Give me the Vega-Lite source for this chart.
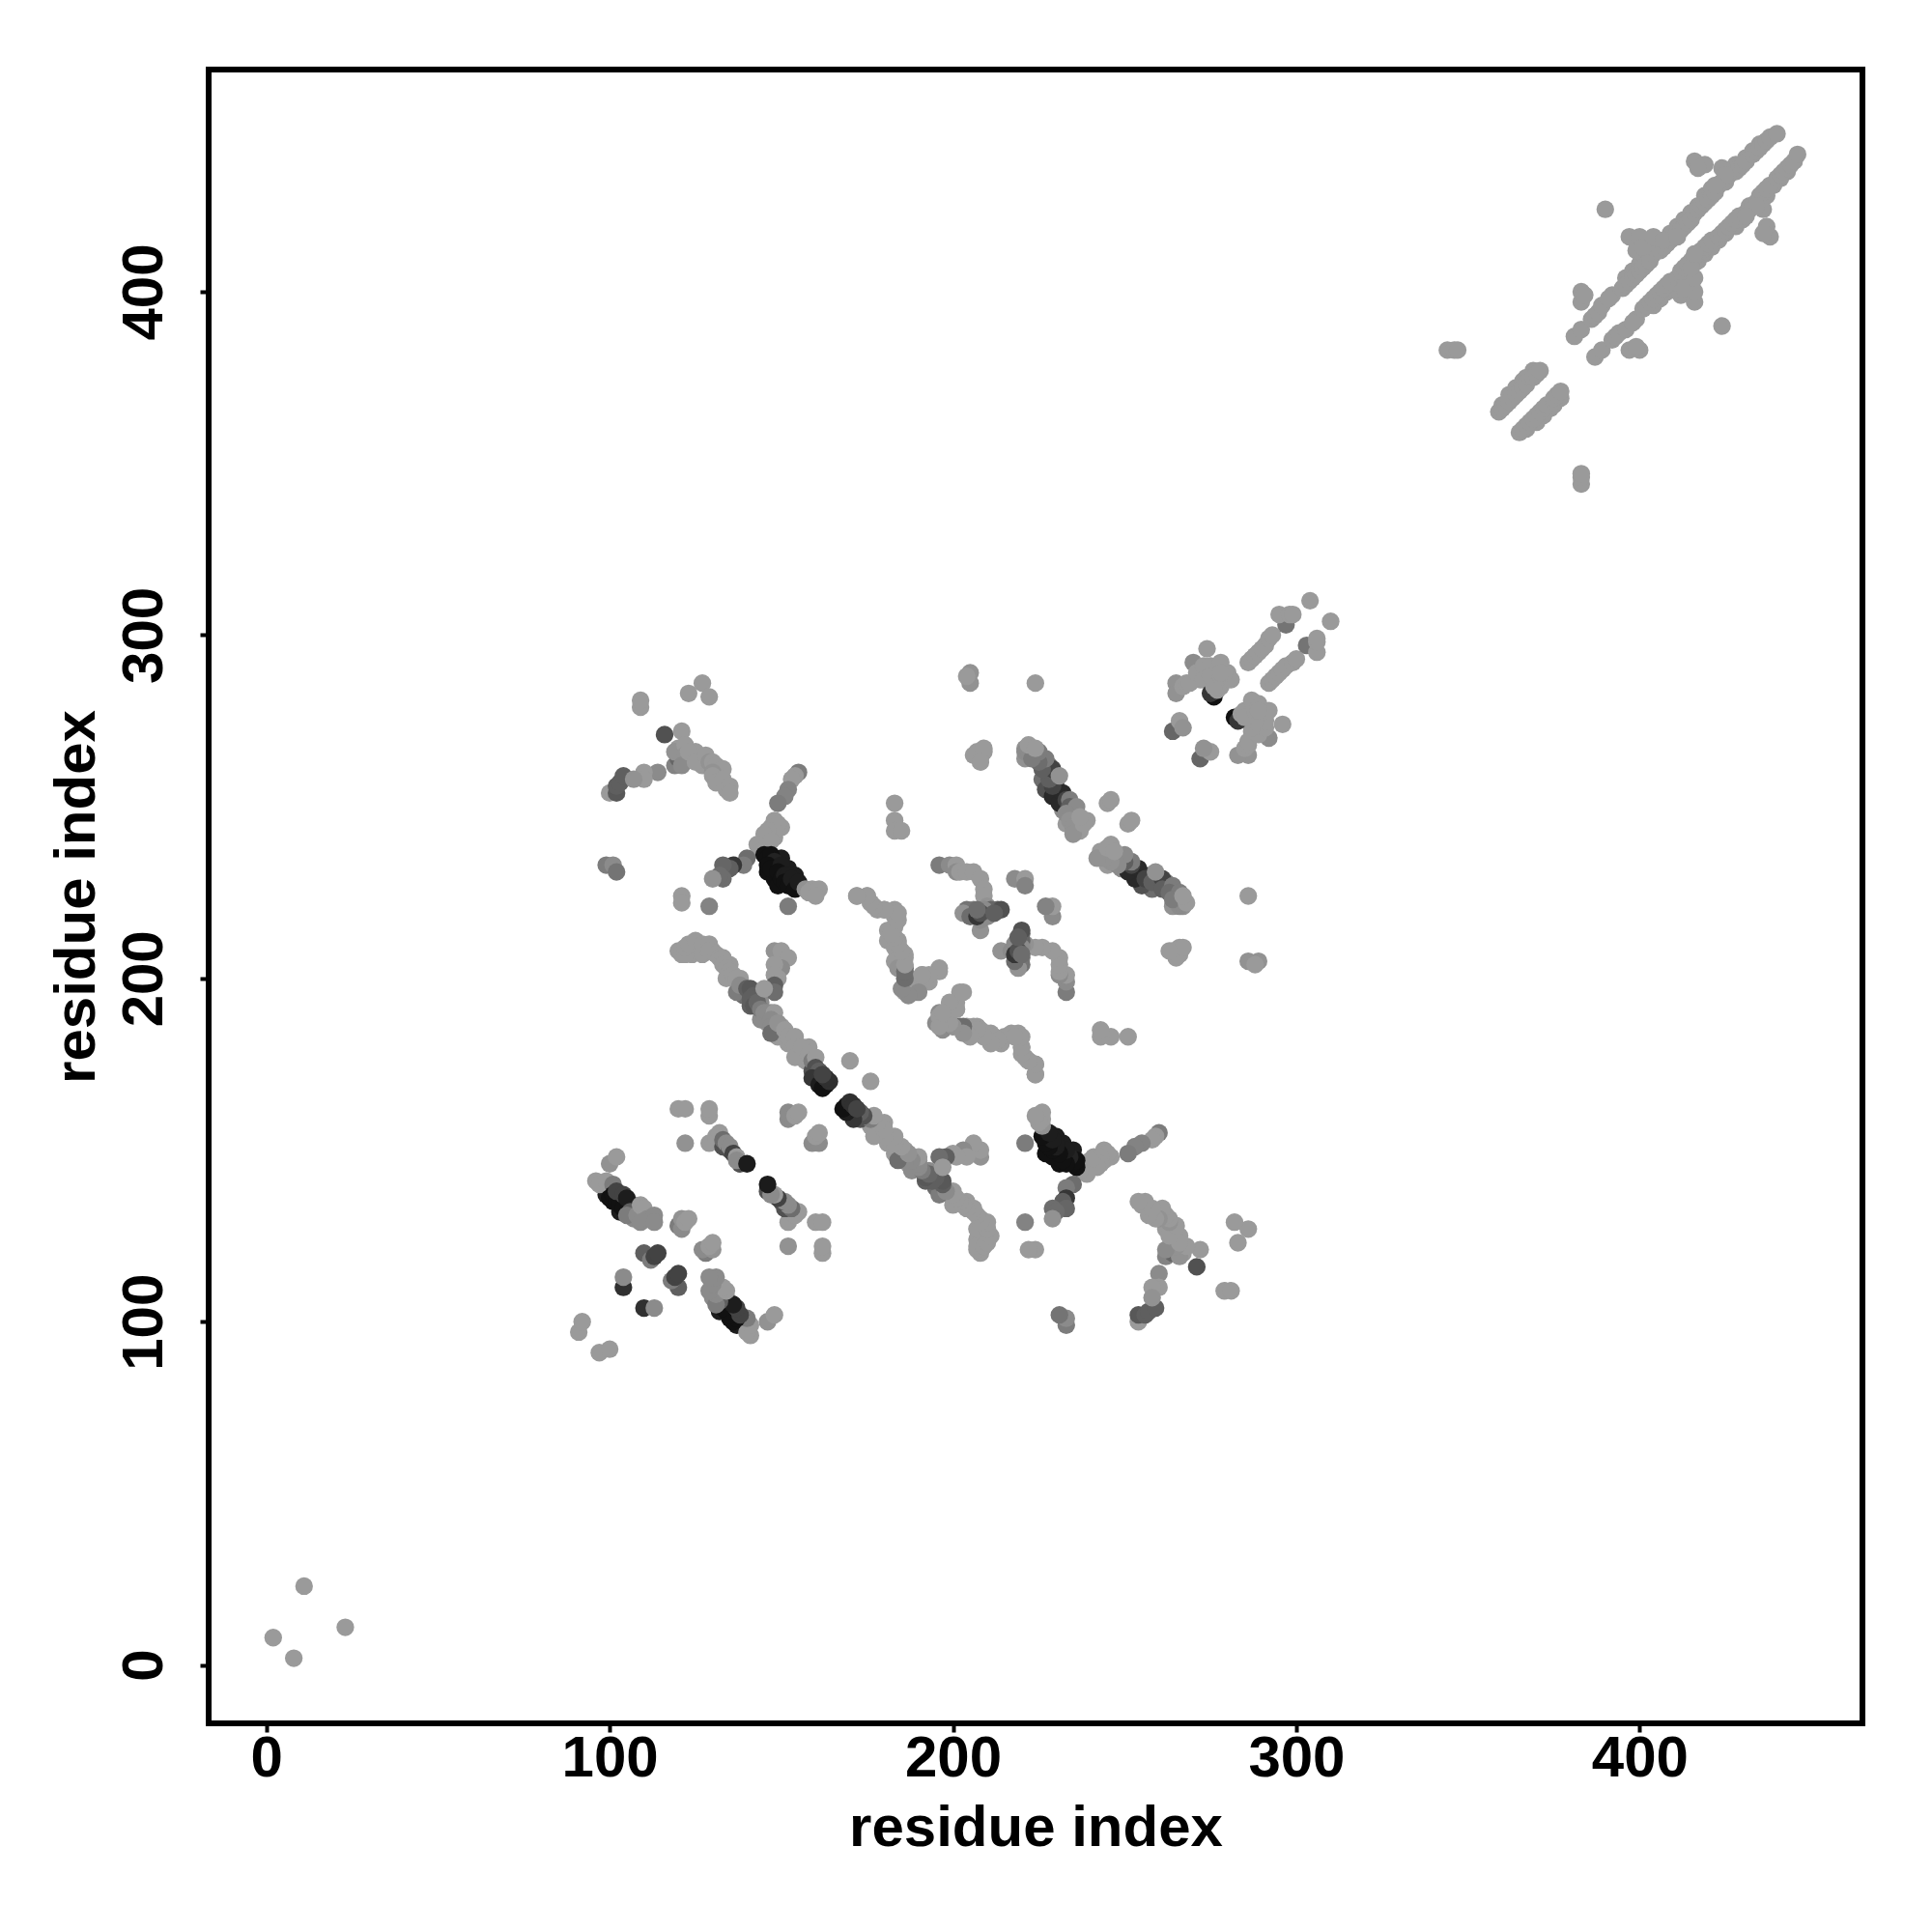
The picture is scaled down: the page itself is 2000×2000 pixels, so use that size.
{"$schema":"https://vega.github.io/schema/vega-lite/v6.json","width":1712,"height":1712,"autosize":{"type":"none"},"padding":{"left":216,"top":72,"right":72,"bottom":216},"background":"white","view":{"stroke":"black","strokeWidth":6,"fill":"white"},"mark":{"type":"circle","size":335,"opacity":1},"encoding":{"x":{"field":"x","type":"quantitative","scale":{"domain":[-16.8,464.9],"nice":false,"zero":false},"axis":{"values":[0,100,200,300,400],"grid":false,"domain":false,"tickColor":"black","tickWidth":4,"tickSize":9,"labelFont":"Liberation Sans","labelFontWeight":"bold","labelFontSize":60,"labelColor":"black","labelPadding":-2,"labelFlush":false,"labelOverlap":false,"title":"residue index","titleFont":"Liberation Sans","titleFontWeight":"bold","titleFontSize":60,"titleColor":"black","titleBaseline":"alphabetic","titleY":126}},"y":{"field":"y","type":"quantitative","scale":{"domain":[-16.97,464.7],"nice":false,"zero":false},"axis":{"values":[0,100,200,300,400],"grid":false,"domain":false,"tickColor":"black","tickWidth":4,"tickSize":9,"labelFont":"Liberation Sans","labelFontWeight":"bold","labelFontSize":60,"labelColor":"black","labelAngle":270,"labelAlign":"center","labelBaseline":"alphabetic","labelPadding":40,"labelFlush":false,"labelOverlap":false,"title":"residue index","titleFont":"Liberation Sans","titleFontWeight":"bold","titleFontSize":60,"titleColor":"black","titleAngle":270,"titleBaseline":"alphabetic","titleX":-119}},"color":{"field":"g","type":"quantitative","scale":{"domain":[0,1],"range":["#9a9a9a","#111111"]},"legend":null}},"data":{"values":[
{"x":396,"y":404,"g":0},{"x":398,"y":406,"g":0},{"x":400,"y":408,"g":0},{"x":402,"y":411,"g":0},{"x":405,"y":413,"g":0},{"x":407,"y":415,"g":0},{"x":409,"y":417,"g":0},{"x":411,"y":419,"g":0},{"x":413,"y":421,"g":0},{"x":415,"y":423,"g":0},{"x":417,"y":425,"g":0},{"x":419,"y":428,"g":0},{"x":421,"y":430,"g":0},{"x":424,"y":432,"g":0},{"x":426,"y":435,"g":0},{"x":428,"y":437,"g":0},{"x":431,"y":439,"g":0},{"x":433,"y":441,"g":0},{"x":435,"y":443,"g":0},{"x":392,"y":399,"g":0},{"x":399,"y":412,"g":0},{"x":401,"y":411,"g":0},{"x":403,"y":414,"g":0},{"x":402,"y":412,"g":0},{"x":360,"y":367,"g":0},{"x":362,"y":370,"g":0},{"x":364,"y":372,"g":0},{"x":366,"y":374,"g":0},{"x":367,"y":375,"g":0},{"x":369,"y":377,"g":0},{"x":124,"y":207,"g":0},{"x":127,"y":207,"g":0},{"x":130,"y":208,"g":0},{"x":135,"y":204,"g":0},{"x":138,"y":200,"g":0},{"x":139,"y":195,"g":0.3},{"x":144,"y":193,"g":0.1},{"x":146,"y":187,"g":0},{"x":149,"y":183,"g":0},{"x":150,"y":186,"g":0},{"x":152,"y":181,"g":0},{"x":155,"y":178,"g":0},{"x":157,"y":176,"g":0},{"x":158,"y":180,"g":0},{"x":159,"y":173,"g":0.5},{"x":163,"y":169,"g":0.9},{"x":160,"y":171,"g":0.8},{"x":162,"y":170,"g":0.9},{"x":141,"y":192,"g":0.4},{"x":144,"y":188,"g":0.1},{"x":147,"y":190,"g":0},{"x":146,"y":231,"g":1},{"x":148,"y":229,"g":1},{"x":149,"y":227,"g":1},{"x":150,"y":235,"g":0.9},{"x":152,"y":232,"g":0.9},{"x":154,"y":230,"g":0.9},{"x":99,"y":137,"g":0.9},{"x":101,"y":135,"g":1},{"x":103,"y":132,"g":0.9},{"x":105,"y":133,"g":0.7},{"x":107,"y":134,"g":0.1},{"x":107,"y":130,"g":0.1},{"x":226,"y":258,"g":0.3},{"x":228,"y":262,"g":0.2},{"x":230,"y":256,"g":0.6},{"x":232,"y":249,"g":0.1},{"x":236,"y":247,"g":0},{"x":236,"y":244,"g":0},{"x":233,"y":245,"g":0},{"x":237,"y":243,"g":0},{"x":239,"y":246,"g":0},{"x":125,"y":266,"g":0},{"x":127,"y":262,"g":0},{"x":132,"y":259,"g":0},{"x":134,"y":255,"g":0},{"x":128,"y":262,"g":0},{"x":120,"y":267,"g":0},{"x":148,"y":241,"g":0},{"x":150,"y":244,"g":0},{"x":147,"y":244,"g":0},{"x":183,"y":215,"g":0},{"x":181,"y":214,"g":0},{"x":184,"y":211,"g":0},{"x":186,"y":206,"g":0},{"x":272,"y":290,"g":0},{"x":274,"y":289,"g":0},{"x":276,"y":290,"g":0},{"x":272,"y":287,"g":0},{"x":280,"y":289,"g":0},
{"y":396,"x":404,"g":0},{"y":398,"x":406,"g":0},{"y":400,"x":408,"g":0},{"y":402,"x":411,"g":0},{"y":405,"x":413,"g":0},{"y":407,"x":415,"g":0},{"y":409,"x":417,"g":0},{"y":411,"x":419,"g":0},{"y":413,"x":421,"g":0},{"y":415,"x":423,"g":0},{"y":417,"x":425,"g":0},{"y":419,"x":428,"g":0},{"y":421,"x":430,"g":0},{"y":424,"x":432,"g":0},{"y":426,"x":435,"g":0},{"y":428,"x":437,"g":0},{"y":431,"x":439,"g":0},{"y":433,"x":441,"g":0},{"y":435,"x":443,"g":0},{"y":392,"x":399,"g":0},{"y":399,"x":412,"g":0},{"y":401,"x":411,"g":0},{"y":403,"x":414,"g":0},{"y":402,"x":412,"g":0},{"y":360,"x":367,"g":0},{"y":362,"x":370,"g":0},{"y":364,"x":372,"g":0},{"y":366,"x":374,"g":0},{"y":367,"x":375,"g":0},{"y":369,"x":377,"g":0},{"y":124,"x":207,"g":0},{"y":127,"x":207,"g":0},{"y":130,"x":208,"g":0},{"y":135,"x":204,"g":0},{"y":138,"x":200,"g":0},{"y":139,"x":195,"g":0.3},{"y":144,"x":193,"g":0.1},{"y":146,"x":187,"g":0},{"y":149,"x":183,"g":0},{"y":150,"x":186,"g":0},{"y":152,"x":181,"g":0},{"y":155,"x":178,"g":0},{"y":157,"x":176,"g":0},{"y":158,"x":180,"g":0},{"y":159,"x":173,"g":0.5},{"y":163,"x":169,"g":0.9},{"y":160,"x":171,"g":0.8},{"y":162,"x":170,"g":0.9},{"y":141,"x":192,"g":0.4},{"y":144,"x":188,"g":0.1},{"y":147,"x":190,"g":0},{"y":146,"x":231,"g":1},{"y":148,"x":229,"g":1},{"y":149,"x":227,"g":1},{"y":150,"x":235,"g":0.9},{"y":152,"x":232,"g":0.9},{"y":154,"x":230,"g":0.9},{"y":99,"x":137,"g":0.9},{"y":101,"x":135,"g":1},{"y":103,"x":132,"g":0.9},{"y":105,"x":133,"g":0.7},{"y":107,"x":134,"g":0.1},{"y":107,"x":130,"g":0.1},{"y":226,"x":258,"g":0.3},{"y":228,"x":262,"g":0.2},{"y":230,"x":256,"g":0.6},{"y":232,"x":249,"g":0.1},{"y":236,"x":247,"g":0},{"y":236,"x":244,"g":0},{"y":233,"x":245,"g":0},{"y":237,"x":243,"g":0},{"y":239,"x":246,"g":0},{"y":125,"x":266,"g":0},{"y":127,"x":262,"g":0},{"y":132,"x":259,"g":0},{"y":134,"x":255,"g":0},{"y":128,"x":262,"g":0},{"y":120,"x":267,"g":0},{"y":148,"x":241,"g":0},{"y":150,"x":244,"g":0},{"y":147,"x":244,"g":0},{"y":183,"x":215,"g":0},{"y":181,"x":214,"g":0},{"y":184,"x":211,"g":0},{"y":186,"x":206,"g":0},{"y":272,"x":290,"g":0},{"y":274,"x":289,"g":0},{"y":276,"x":290,"g":0},{"y":272,"x":287,"g":0},{"y":280,"x":289,"g":0},
{"x":2,"y":8,"g":0},{"x":11,"y":23,"g":0},{"x":91,"y":97,"g":0},{"x":92,"y":100,"g":0},{"x":96,"y":141,"g":0},{"x":97,"y":140,"g":0},{"x":99,"y":141,"g":0},{"x":100,"y":146,"g":0.05},{"x":102,"y":148,"g":0},{"x":101,"y":140,"g":0.2},{"x":100,"y":136,"g":1},{"x":101,"y":137,"g":1},{"x":102,"y":135,"g":1},{"x":103,"y":134,"g":1},{"x":104,"y":133,"g":1},{"x":102,"y":138,"g":0.6},{"x":104,"y":137,"g":0.6},{"x":105,"y":136,"g":0.9},{"x":106,"y":132,"g":0.4},{"x":105,"y":131,"g":0.2},{"x":108,"y":131,"g":0.1},{"x":109,"y":134,"g":0},{"x":110,"y":133,"g":0},{"x":109,"y":129,"g":0.1},{"x":111,"y":130,"g":0.1},{"x":113,"y":131,"g":0.1},{"x":113,"y":129,"g":0.1},{"x":120,"y":128,"g":0.2},{"x":121,"y":127,"g":0.1},{"x":121,"y":130,"g":0.05},{"x":122,"y":129,"g":0},{"x":123,"y":130,"g":0},{"x":110,"y":120,"g":0.4},{"x":112,"y":118,"g":0.2},{"x":113,"y":119,"g":0.6},{"x":114,"y":120,"g":0.6},{"x":104,"y":110,"g":0.75},{"x":104,"y":113,"g":0.1},{"x":120,"y":162,"g":0},{"x":122,"y":162,"g":0},{"x":129,"y":160,"g":0},{"x":129,"y":162,"g":0},{"x":122,"y":152,"g":0.05},{"x":129,"y":152,"g":0},{"x":131,"y":154,"g":0},{"x":132,"y":155,"g":0},{"x":133,"y":151,"g":0.5},{"x":133,"y":153,"g":0.3},{"x":134,"y":152,"g":0.1},{"x":135,"y":150,"g":0.5},{"x":135,"y":151,"g":0.1},{"x":136,"y":149,"g":0.6},{"x":137,"y":148,"g":0},{"x":138,"y":146,"g":0.5},{"x":137,"y":147,"g":0.1},{"x":140,"y":146,"g":0.92},{"x":152,"y":159,"g":0.1},{"x":152,"y":161,"g":0.1},{"x":154,"y":160,"g":0},{"x":155,"y":161,"g":0},{"x":120,"y":208,"g":0},{"x":121,"y":207,"g":0},{"x":122,"y":207,"g":0},{"x":122,"y":209,"g":0},{"x":123,"y":210,"g":0},{"x":125,"y":211,"g":0},{"x":127,"y":210,"g":0},{"x":129,"y":210,"g":0},{"x":129,"y":208,"g":0},{"x":131,"y":207,"g":0},{"x":132,"y":206,"g":0},{"x":133,"y":206,"g":0},{"x":133,"y":204,"g":0},{"x":134,"y":203,"g":0},{"x":135,"y":202,"g":0},{"x":134,"y":200,"g":0},{"x":136,"y":201,"g":0},{"x":137,"y":200,"g":0},{"x":137,"y":196,"g":0.2},{"x":138,"y":198,"g":0.1},{"x":140,"y":197,"g":0.4},{"x":141,"y":197,"g":0.45},{"x":142,"y":195,"g":0.4},{"x":141,"y":194,"g":0.4},{"x":142,"y":192,"g":0.45},{"x":143,"y":193,"g":0.35},{"x":144,"y":191,"g":0.2},{"x":145,"y":190,"g":0.1},{"x":146,"y":190,"g":0.1},{"x":148,"y":190,"g":0},{"x":147,"y":188,"g":0.1},{"x":147,"y":186,"g":0.1},{"x":147,"y":184,"g":0.3},{"x":149,"y":187,"g":0.05},{"x":151,"y":185,"g":0},{"x":152,"y":183,"g":0},{"x":154,"y":183,"g":0},{"x":154,"y":180,"g":0},{"x":154,"y":177,"g":0},{"x":156,"y":180,"g":0},{"x":158,"y":178,"g":0},{"x":159,"y":176,"g":0.2},{"x":160,"y":177,"g":0},{"x":160,"y":174,"g":0.5},{"x":161,"y":173,"g":0.4},{"x":159,"y":171,"g":0.7},{"x":161,"y":169,"g":0.9},{"x":162,"y":168,"g":1},{"x":164,"y":170,"g":0.75},{"x":163,"y":171,"g":0.75},{"x":162,"y":172,"g":0.6},{"x":148,"y":208,"g":0.05},{"x":150,"y":208,"g":0},{"x":152,"y":206,"g":0},{"x":150,"y":203,"g":0.1},{"x":148,"y":204,"g":0},{"x":149,"y":200,"g":0},{"x":148,"y":201,"g":0},{"x":148,"y":198,"g":0.4},{"x":148,"y":196,"g":0.3},{"x":145,"y":197,"g":0},{"x":170,"y":176,"g":0},{"x":109,"y":279,"g":0},{"x":109,"y":281,"g":0},{"x":123,"y":283,"g":0},{"x":127,"y":286,"g":0},{"x":129,"y":282,"g":0},{"x":116,"y":271,"g":0.5},{"x":121,"y":272,"g":0},{"x":119,"y":262,"g":0.15},{"x":120,"y":264,"g":0.35},{"x":119,"y":266,"g":0.05},{"x":122,"y":268,"g":0},{"x":122,"y":265,"g":0.05},{"x":121,"y":262,"g":0.1},{"x":123,"y":266,"g":0},{"x":125,"y":263,"g":0},{"x":128,"y":265,"g":0},{"x":129,"y":263,"g":0.05},{"x":130,"y":263,"g":0},{"x":131,"y":262,"g":0},{"x":133,"y":261,"g":0},{"x":130,"y":260,"g":0.05},{"x":130,"y":259,"g":0},{"x":131,"y":257,"g":0},{"x":133,"y":258,"g":0},{"x":135,"y":256,"g":0},{"x":135,"y":254,"g":0},{"x":114,"y":260,"g":0.1},{"x":110,"y":260,"g":0},{"x":110,"y":258,"g":0},{"x":100,"y":254,"g":0},{"x":102,"y":254,"g":0.45},{"x":102,"y":256,"g":0.4},{"x":103,"y":257,"g":0.4},{"x":104,"y":259,"g":0.4},{"x":107,"y":258,"g":0.05},{"x":155,"y":260,"g":0.2},{"x":154,"y":259,"g":0},{"x":153,"y":258,"g":0},{"x":152,"y":255,"g":0.15},{"x":151,"y":253,"g":0.15},{"x":149,"y":251,"g":0.2},{"x":148,"y":246,"g":0},{"x":149,"y":245,"g":0},{"x":148,"y":243,"g":0},{"x":146,"y":243,"g":0},{"x":145,"y":242,"g":0},{"x":147,"y":240,"g":0},{"x":143,"y":239,"g":0},{"x":144,"y":237,"g":0},{"x":145,"y":236,"g":1},{"x":146,"y":235,"g":1},{"x":147,"y":236,"g":1},{"x":148,"y":234,"g":0.85},{"x":146,"y":233,"g":1},{"x":147,"y":232,"g":1},{"x":150,"y":233,"g":0.9},{"x":149,"y":231,"g":1},{"x":150,"y":229,"g":1},{"x":151,"y":230,"g":0.9},{"x":152,"y":230,"g":0.9},{"x":151,"y":228,"g":1},{"x":152,"y":227,"g":1},{"x":153,"y":229,"g":0.9},{"x":154,"y":226,"g":1},{"x":155,"y":228,"g":0.9},{"x":157,"y":226,"g":0.05},{"x":159,"y":226,"g":0},{"x":161,"y":226,"g":0},{"x":158,"y":225,"g":0},{"x":160,"y":224,"g":0},{"x":152,"y":221,"g":0.2},{"x":140,"y":235,"g":0.3},{"x":139,"y":233,"g":0.2},{"x":136,"y":233,"g":0.7},{"x":135,"y":232,"g":0.4},{"x":133,"y":233,"g":0.35},{"x":133,"y":229,"g":0.3},{"x":132,"y":230,"g":0.3},{"x":130,"y":229,"g":0.05},{"x":99,"y":233,"g":0.2},{"x":101,"y":233,"g":0.1},{"x":102,"y":231,"g":0.25},{"x":121,"y":224,"g":0},{"x":121,"y":222,"g":0},{"x":129,"y":221,"g":0.15},{"x":183,"y":251,"g":0},{"x":183,"y":246,"g":0},{"x":183,"y":243,"g":0},{"x":185,"y":243,"g":0},{"x":196,"y":233,"g":0.2},{"x":199,"y":233,"g":0.1},{"x":201,"y":233,"g":0},{"x":201,"y":231,"g":0.1},{"x":202,"y":231,"g":0},{"x":204,"y":231,"g":0},{"x":206,"y":231,"g":0},{"x":208,"y":229,"g":0},{"x":209,"y":226,"g":0},{"x":209,"y":224,"g":0},{"x":210,"y":221,"g":0.05},{"x":213,"y":220,"g":0.35},{"x":211,"y":220,"g":0.35},{"x":209,"y":220,"g":0.1},{"x":206,"y":220,"g":0.15},{"x":204,"y":220,"g":0.25},{"x":203,"y":219,"g":0.05},{"x":208,"y":214,"g":0.05},{"x":208,"y":217,"g":0.1},{"x":214,"y":220,"g":0.5},{"x":210,"y":218,"g":0.1},{"x":205,"y":218,"g":0.3},{"x":207,"y":218,"g":0.7},{"x":208,"y":219,"g":0.5},{"x":212,"y":219,"g":0.4},{"x":207,"y":220,"g":0.3},{"x":172,"y":224,"g":0},{"x":175,"y":224,"g":0},{"x":176,"y":222,"g":0},{"x":178,"y":220,"g":0},{"x":180,"y":220,"g":0},{"x":183,"y":220,"g":0},{"x":183,"y":218,"g":0},{"x":182,"y":213,"g":0},{"x":181,"y":211,"g":0},{"x":183,"y":209,"g":0},{"x":185,"y":207,"g":0},{"x":183,"y":205,"g":0},{"x":186,"y":203,"g":0.3},{"x":184,"y":203,"g":0.05},{"x":186,"y":200,"g":0.05},{"x":187,"y":199,"g":0},{"x":186,"y":196,"g":0},{"x":189,"y":196,"g":0},{"x":191,"y":201,"g":0},{"x":193,"y":199,"g":0},{"x":196,"y":203,"g":0},{"x":190,"y":197,"g":0},{"x":202,"y":196,"g":0},{"x":201,"y":193,"g":0},{"x":201,"y":191,"g":0},{"x":196,"y":190,"g":0.1},{"x":195,"y":187,"g":0.1},{"x":197,"y":185,"g":0.1},{"x":200,"y":186,"g":0.3},{"x":202,"y":186,"g":0.3},{"x":204,"y":186,"g":0},{"x":207,"y":186,"g":0},{"x":208,"y":185,"g":0},{"x":210,"y":184,"g":0},{"x":212,"y":183,"g":0},{"x":213,"y":182,"g":0},{"x":217,"y":184,"g":0},{"x":219,"y":184,"g":0},{"x":220,"y":180,"g":0},{"x":221,"y":177,"g":0},{"x":222,"y":176,"g":0},{"x":224,"y":175,"g":0},{"x":224,"y":172,"g":0},{"x":205,"y":289,"g":0.05},{"x":205,"y":286,"g":0.05},{"x":204,"y":288,"g":0},{"x":207,"y":266,"g":0},{"x":209,"y":266,"g":0},{"x":208,"y":264,"g":0},{"x":206,"y":265,"g":0},{"x":209,"y":267,"g":0},{"x":208,"y":263,"g":0},{"x":218,"y":229,"g":0.1},{"x":221,"y":229,"g":0},{"x":221,"y":227,"g":0.15},{"x":224,"y":286,"g":0},{"x":227,"y":255,"g":0.5},{"x":229,"y":253,"g":0.8},{"x":231,"y":251,"g":0.8},{"x":232,"y":254,"g":0.8},{"x":229,"y":256,"g":0.6},{"x":228,"y":258,"g":0.4},{"x":229,"y":261,"g":0.6},{"x":226,"y":261,"g":0.4},{"x":227,"y":264,"g":0.2},{"x":225,"y":263,"g":0.3},{"x":225,"y":266,"g":0.2},{"x":221,"y":267,"g":0.05},{"x":221,"y":264,"g":0.05},{"x":221,"y":266,"g":0.1},{"x":222,"y":266,"g":0.1},{"x":223,"y":264,"g":0.2},{"x":222,"y":268,"g":0},{"x":224,"y":267,"g":0},{"x":231,"y":259,"g":0.05},{"x":233,"y":252,"g":0.6},{"x":234,"y":252,"g":0.2},{"x":234,"y":250,"g":0.4},{"x":236,"y":250,"g":0.1},{"x":233,"y":248,"g":0.1},{"x":234,"y":246,"g":0.05},{"x":235,"y":244,"g":0.05},{"x":235,"y":242,"g":0.05},{"x":238,"y":245,"g":0},{"x":237,"y":247,"g":0},{"x":245,"y":251,"g":0},{"x":246,"y":252,"g":0},{"x":265,"y":286,"g":0.05},{"x":265,"y":283,"g":0.05},{"x":267,"y":285,"g":0},{"x":268,"y":286,"g":0},{"x":270,"y":292,"g":0.1},{"x":274,"y":296,"g":0},{"x":269,"y":286,"g":0},{"x":271,"y":289,"g":0},{"x":273,"y":291,"g":0},{"x":275,"y":291,"g":0},{"x":278,"y":292,"g":0},{"x":273,"y":287,"g":0},{"x":275,"y":288,"g":0},{"x":276,"y":282,"g":1},{"x":275,"y":283,"g":0.7},{"x":277,"y":284,"g":0},{"x":278,"y":285,"g":0},{"x":276,"y":285,"g":0},{"x":278,"y":288,"g":0},{"x":281,"y":287,"g":0},{"x":279,"y":289,"g":0},{"x":278,"y":289,"g":0},{"x":264,"y":272,"g":0.35},{"x":266,"y":275,"g":0},{"x":267,"y":273,"g":0.05},{"x":286,"y":292,"g":0},{"x":287,"y":293,"g":0},{"x":288,"y":294,"g":0},{"x":289,"y":295,"g":0},{"x":290,"y":296,"g":0},{"x":291,"y":297,"g":0},{"x":292,"y":299,"g":0},{"x":293,"y":300,"g":0},{"x":297,"y":303,"g":0.25},{"x":295,"y":306,"g":0},{"x":298,"y":306,"g":0},{"x":299,"y":306,"g":0},{"x":304,"y":310,"g":0},{"x":344,"y":383,"g":0},{"x":346,"y":383,"g":0},{"x":347,"y":383,"g":0},{"x":359,"y":365,"g":0},{"x":360,"y":366,"g":0},{"x":361,"y":367,"g":0},{"x":362,"y":368,"g":0},{"x":363,"y":369,"g":0},{"x":364,"y":370,"g":0},{"x":365,"y":371,"g":0},{"x":366,"y":372,"g":0},{"x":367,"y":373,"g":0},{"x":368,"y":375,"g":0},{"x":369,"y":375,"g":0},{"x":370,"y":376,"g":0},{"x":371,"y":377,"g":0},{"x":381,"y":387,"g":0},{"x":383,"y":389,"g":0},{"x":383,"y":397,"g":0},{"x":383,"y":400,"g":0},{"x":384,"y":399,"g":0},{"x":386,"y":392,"g":0},{"x":387,"y":393,"g":0},{"x":388,"y":394,"g":0},{"x":389,"y":396,"g":0},{"x":391,"y":398,"g":0},{"x":390,"y":424,"g":0},{"x":395,"y":401,"g":0},{"x":396,"y":402,"g":0},{"x":397,"y":403,"g":0},{"x":398,"y":404,"g":0},{"x":399,"y":405,"g":0},{"x":400,"y":406,"g":0},{"x":401,"y":407,"g":0},{"x":402,"y":408,"g":0},{"x":403,"y":409,"g":0},{"x":404,"y":411,"g":0},{"x":405,"y":412,"g":0},{"x":406,"y":412,"g":0},{"x":407,"y":413,"g":0},{"x":408,"y":414,"g":0},{"x":409,"y":415,"g":0},{"x":410,"y":416,"g":0},{"x":411,"y":417,"g":0},{"x":412,"y":418,"g":0},{"x":413,"y":419,"g":0},{"x":414,"y":420,"g":0},{"x":415,"y":421,"g":0},{"x":416,"y":423,"g":0},{"x":417,"y":424,"g":0},{"x":418,"y":425,"g":0},{"x":419,"y":426,"g":0},{"x":420,"y":427,"g":0},{"x":421,"y":428,"g":0},{"x":422,"y":429,"g":0},{"x":423,"y":431,"g":0},{"x":425,"y":432,"g":0},{"x":425,"y":433,"g":0},{"x":426,"y":434,"g":0},{"x":428,"y":435,"g":0},{"x":429,"y":436,"g":0},{"x":430,"y":437,"g":0},{"x":431,"y":438,"g":0},{"x":433,"y":440,"g":0},{"x":434,"y":441,"g":0},{"x":435,"y":442,"g":0},{"x":436,"y":443,"g":0},{"x":437,"y":444,"g":0},{"x":438,"y":445,"g":0},{"x":440,"y":446,"g":0},{"x":397,"y":416,"g":0},{"x":400,"y":416,"g":0},{"x":401,"y":413,"g":0},{"x":404,"y":416,"g":0},{"x":407,"y":415,"g":0},{"x":411,"y":416,"g":0},{"x":416,"y":438,"g":0},{"x":419,"y":437,"g":0},{"x":417,"y":436,"g":0},{"x":424,"y":436,"g":0},{"x":425,"y":434,"g":0},{"x":422,"y":431,"g":0},
{"y":2,"x":8,"g":0},{"y":11,"x":23,"g":0},{"y":91,"x":97,"g":0},{"y":92,"x":100,"g":0},{"y":96,"x":141,"g":0},{"y":97,"x":140,"g":0},{"y":99,"x":141,"g":0},{"y":100,"x":146,"g":0.05},{"y":102,"x":148,"g":0},{"y":101,"x":140,"g":0.2},{"y":100,"x":136,"g":1},{"y":101,"x":137,"g":1},{"y":102,"x":135,"g":1},{"y":103,"x":134,"g":1},{"y":104,"x":133,"g":1},{"y":102,"x":138,"g":0.6},{"y":104,"x":137,"g":0.6},{"y":105,"x":136,"g":0.9},{"y":106,"x":132,"g":0.4},{"y":105,"x":131,"g":0.2},{"y":108,"x":131,"g":0.1},{"y":109,"x":134,"g":0},{"y":110,"x":133,"g":0},{"y":109,"x":129,"g":0.1},{"y":111,"x":130,"g":0.1},{"y":113,"x":131,"g":0.1},{"y":113,"x":129,"g":0.1},{"y":120,"x":128,"g":0.2},{"y":121,"x":127,"g":0.1},{"y":121,"x":130,"g":0.05},{"y":122,"x":129,"g":0},{"y":123,"x":130,"g":0},{"y":110,"x":120,"g":0.4},{"y":112,"x":118,"g":0.2},{"y":113,"x":119,"g":0.6},{"y":114,"x":120,"g":0.6},{"y":104,"x":110,"g":0.75},{"y":104,"x":113,"g":0.1},{"y":120,"x":162,"g":0},{"y":122,"x":162,"g":0},{"y":129,"x":160,"g":0},{"y":129,"x":162,"g":0},{"y":122,"x":152,"g":0.05},{"y":129,"x":152,"g":0},{"y":131,"x":154,"g":0},{"y":132,"x":155,"g":0},{"y":133,"x":151,"g":0.5},{"y":133,"x":153,"g":0.3},{"y":134,"x":152,"g":0.1},{"y":135,"x":150,"g":0.5},{"y":135,"x":151,"g":0.1},{"y":136,"x":149,"g":0.6},{"y":137,"x":148,"g":0},{"y":138,"x":146,"g":0.5},{"y":137,"x":147,"g":0.1},{"y":140,"x":146,"g":0.92},{"y":152,"x":159,"g":0.1},{"y":152,"x":161,"g":0.1},{"y":154,"x":160,"g":0},{"y":155,"x":161,"g":0},{"y":120,"x":208,"g":0},{"y":121,"x":207,"g":0},{"y":122,"x":207,"g":0},{"y":122,"x":209,"g":0},{"y":123,"x":210,"g":0},{"y":125,"x":211,"g":0},{"y":127,"x":210,"g":0},{"y":129,"x":210,"g":0},{"y":129,"x":208,"g":0},{"y":131,"x":207,"g":0},{"y":132,"x":206,"g":0},{"y":133,"x":206,"g":0},{"y":133,"x":204,"g":0},{"y":134,"x":203,"g":0},{"y":135,"x":202,"g":0},{"y":134,"x":200,"g":0},{"y":136,"x":201,"g":0},{"y":137,"x":200,"g":0},{"y":137,"x":196,"g":0.2},{"y":138,"x":198,"g":0.1},{"y":140,"x":197,"g":0.4},{"y":141,"x":197,"g":0.45},{"y":142,"x":195,"g":0.4},{"y":141,"x":194,"g":0.4},{"y":142,"x":192,"g":0.45},{"y":143,"x":193,"g":0.35},{"y":144,"x":191,"g":0.2},{"y":145,"x":190,"g":0.1},{"y":146,"x":190,"g":0.1},{"y":148,"x":190,"g":0},{"y":147,"x":188,"g":0.1},{"y":147,"x":186,"g":0.1},{"y":147,"x":184,"g":0.3},{"y":149,"x":187,"g":0.05},{"y":151,"x":185,"g":0},{"y":152,"x":183,"g":0},{"y":154,"x":183,"g":0},{"y":154,"x":180,"g":0},{"y":154,"x":177,"g":0},{"y":156,"x":180,"g":0},{"y":158,"x":178,"g":0},{"y":159,"x":176,"g":0.2},{"y":160,"x":177,"g":0},{"y":160,"x":174,"g":0.5},{"y":161,"x":173,"g":0.4},{"y":159,"x":171,"g":0.7},{"y":161,"x":169,"g":0.9},{"y":162,"x":168,"g":1},{"y":164,"x":170,"g":0.75},{"y":163,"x":171,"g":0.75},{"y":162,"x":172,"g":0.6},{"y":148,"x":208,"g":0.05},{"y":150,"x":208,"g":0},{"y":152,"x":206,"g":0},{"y":150,"x":203,"g":0.1},{"y":148,"x":204,"g":0},{"y":149,"x":200,"g":0},{"y":148,"x":201,"g":0},{"y":148,"x":198,"g":0.4},{"y":148,"x":196,"g":0.3},{"y":145,"x":197,"g":0},{"y":170,"x":176,"g":0},{"y":109,"x":279,"g":0},{"y":109,"x":281,"g":0},{"y":123,"x":283,"g":0},{"y":127,"x":286,"g":0},{"y":129,"x":282,"g":0},{"y":116,"x":271,"g":0.5},{"y":121,"x":272,"g":0},{"y":119,"x":262,"g":0.15},{"y":120,"x":264,"g":0.35},{"y":119,"x":266,"g":0.05},{"y":122,"x":268,"g":0},{"y":122,"x":265,"g":0.05},{"y":121,"x":262,"g":0.1},{"y":123,"x":266,"g":0},{"y":125,"x":263,"g":0},{"y":128,"x":265,"g":0},{"y":129,"x":263,"g":0.05},{"y":130,"x":263,"g":0},{"y":131,"x":262,"g":0},{"y":133,"x":261,"g":0},{"y":130,"x":260,"g":0.05},{"y":130,"x":259,"g":0},{"y":131,"x":257,"g":0},{"y":133,"x":258,"g":0},{"y":135,"x":256,"g":0},{"y":135,"x":254,"g":0},{"y":114,"x":260,"g":0.1},{"y":110,"x":260,"g":0},{"y":110,"x":258,"g":0},{"y":100,"x":254,"g":0},{"y":102,"x":254,"g":0.45},{"y":102,"x":256,"g":0.4},{"y":103,"x":257,"g":0.4},{"y":104,"x":259,"g":0.4},{"y":107,"x":258,"g":0.05},{"y":155,"x":260,"g":0.2},{"y":154,"x":259,"g":0},{"y":153,"x":258,"g":0},{"y":152,"x":255,"g":0.15},{"y":151,"x":253,"g":0.15},{"y":149,"x":251,"g":0.2},{"y":148,"x":246,"g":0},{"y":149,"x":245,"g":0},{"y":148,"x":243,"g":0},{"y":146,"x":243,"g":0},{"y":145,"x":242,"g":0},{"y":147,"x":240,"g":0},{"y":143,"x":239,"g":0},{"y":144,"x":237,"g":0},{"y":145,"x":236,"g":1},{"y":146,"x":235,"g":1},{"y":147,"x":236,"g":1},{"y":148,"x":234,"g":0.85},{"y":146,"x":233,"g":1},{"y":147,"x":232,"g":1},{"y":150,"x":233,"g":0.9},{"y":149,"x":231,"g":1},{"y":150,"x":229,"g":1},{"y":151,"x":230,"g":0.9},{"y":152,"x":230,"g":0.9},{"y":151,"x":228,"g":1},{"y":152,"x":227,"g":1},{"y":153,"x":229,"g":0.9},{"y":154,"x":226,"g":1},{"y":155,"x":228,"g":0.9},{"y":157,"x":226,"g":0.05},{"y":159,"x":226,"g":0},{"y":161,"x":226,"g":0},{"y":158,"x":225,"g":0},{"y":160,"x":224,"g":0},{"y":152,"x":221,"g":0.2},{"y":140,"x":235,"g":0.3},{"y":139,"x":233,"g":0.2},{"y":136,"x":233,"g":0.7},{"y":135,"x":232,"g":0.4},{"y":133,"x":233,"g":0.35},{"y":133,"x":229,"g":0.3},{"y":132,"x":230,"g":0.3},{"y":130,"x":229,"g":0.05},{"y":99,"x":233,"g":0.2},{"y":101,"x":233,"g":0.1},{"y":102,"x":231,"g":0.25},{"y":121,"x":224,"g":0},{"y":121,"x":222,"g":0},{"y":129,"x":221,"g":0.15},{"y":183,"x":251,"g":0},{"y":183,"x":246,"g":0},{"y":183,"x":243,"g":0},{"y":185,"x":243,"g":0},{"y":196,"x":233,"g":0.2},{"y":199,"x":233,"g":0.1},{"y":201,"x":233,"g":0},{"y":201,"x":231,"g":0.1},{"y":202,"x":231,"g":0},{"y":204,"x":231,"g":0},{"y":206,"x":231,"g":0},{"y":208,"x":229,"g":0},{"y":209,"x":226,"g":0},{"y":209,"x":224,"g":0},{"y":210,"x":221,"g":0.05},{"y":213,"x":220,"g":0.35},{"y":211,"x":220,"g":0.35},{"y":209,"x":220,"g":0.1},{"y":206,"x":220,"g":0.15},{"y":204,"x":220,"g":0.25},{"y":203,"x":219,"g":0.05},{"y":208,"x":214,"g":0.05},{"y":208,"x":217,"g":0.1},{"y":214,"x":220,"g":0.5},{"y":210,"x":218,"g":0.1},{"y":205,"x":218,"g":0.3},{"y":207,"x":218,"g":0.7},{"y":208,"x":219,"g":0.5},{"y":212,"x":219,"g":0.4},{"y":207,"x":220,"g":0.3},{"y":172,"x":224,"g":0},{"y":175,"x":224,"g":0},{"y":176,"x":222,"g":0},{"y":178,"x":220,"g":0},{"y":180,"x":220,"g":0},{"y":183,"x":220,"g":0},{"y":183,"x":218,"g":0},{"y":182,"x":213,"g":0},{"y":181,"x":211,"g":0},{"y":183,"x":209,"g":0},{"y":185,"x":207,"g":0},{"y":183,"x":205,"g":0},{"y":186,"x":203,"g":0.3},{"y":184,"x":203,"g":0.05},{"y":186,"x":200,"g":0.05},{"y":187,"x":199,"g":0},{"y":186,"x":196,"g":0},{"y":189,"x":196,"g":0},{"y":191,"x":201,"g":0},{"y":193,"x":199,"g":0},{"y":196,"x":203,"g":0},{"y":190,"x":197,"g":0},{"y":202,"x":196,"g":0},{"y":201,"x":193,"g":0},{"y":201,"x":191,"g":0},{"y":196,"x":190,"g":0.1},{"y":195,"x":187,"g":0.1},{"y":197,"x":185,"g":0.1},{"y":200,"x":186,"g":0.3},{"y":202,"x":186,"g":0.3},{"y":204,"x":186,"g":0},{"y":207,"x":186,"g":0},{"y":208,"x":185,"g":0},{"y":210,"x":184,"g":0},{"y":212,"x":183,"g":0},{"y":213,"x":182,"g":0},{"y":217,"x":184,"g":0},{"y":219,"x":184,"g":0},{"y":220,"x":180,"g":0},{"y":221,"x":177,"g":0},{"y":222,"x":176,"g":0},{"y":224,"x":175,"g":0},{"y":224,"x":172,"g":0},{"y":205,"x":289,"g":0.05},{"y":205,"x":286,"g":0.05},{"y":204,"x":288,"g":0},{"y":207,"x":266,"g":0},{"y":209,"x":266,"g":0},{"y":208,"x":264,"g":0},{"y":206,"x":265,"g":0},{"y":209,"x":267,"g":0},{"y":208,"x":263,"g":0},{"y":218,"x":229,"g":0.1},{"y":221,"x":229,"g":0},{"y":221,"x":227,"g":0.15},{"y":224,"x":286,"g":0},{"y":227,"x":255,"g":0.5},{"y":229,"x":253,"g":0.8},{"y":231,"x":251,"g":0.8},{"y":232,"x":254,"g":0.8},{"y":229,"x":256,"g":0.6},{"y":228,"x":258,"g":0.4},{"y":229,"x":261,"g":0.6},{"y":226,"x":261,"g":0.4},{"y":227,"x":264,"g":0.2},{"y":225,"x":263,"g":0.3},{"y":225,"x":266,"g":0.2},{"y":221,"x":267,"g":0.05},{"y":221,"x":264,"g":0.05},{"y":221,"x":266,"g":0.1},{"y":222,"x":266,"g":0.1},{"y":223,"x":264,"g":0.2},{"y":222,"x":268,"g":0},{"y":224,"x":267,"g":0},{"y":231,"x":259,"g":0.05},{"y":233,"x":252,"g":0.6},{"y":234,"x":252,"g":0.2},{"y":234,"x":250,"g":0.4},{"y":236,"x":250,"g":0.1},{"y":233,"x":248,"g":0.1},{"y":234,"x":246,"g":0.05},{"y":235,"x":244,"g":0.05},{"y":235,"x":242,"g":0.05},{"y":238,"x":245,"g":0},{"y":237,"x":247,"g":0},{"y":245,"x":251,"g":0},{"y":246,"x":252,"g":0},{"y":265,"x":286,"g":0.05},{"y":265,"x":283,"g":0.05},{"y":267,"x":285,"g":0},{"y":268,"x":286,"g":0},{"y":270,"x":292,"g":0.1},{"y":274,"x":296,"g":0},{"y":269,"x":286,"g":0},{"y":271,"x":289,"g":0},{"y":273,"x":291,"g":0},{"y":275,"x":291,"g":0},{"y":278,"x":292,"g":0},{"y":273,"x":287,"g":0},{"y":275,"x":288,"g":0},{"y":276,"x":282,"g":1},{"y":275,"x":283,"g":0.7},{"y":277,"x":284,"g":0},{"y":278,"x":285,"g":0},{"y":276,"x":285,"g":0},{"y":278,"x":288,"g":0},{"y":281,"x":287,"g":0},{"y":279,"x":289,"g":0},{"y":278,"x":289,"g":0},{"y":264,"x":272,"g":0.35},{"y":266,"x":275,"g":0},{"y":267,"x":273,"g":0.05},{"y":286,"x":292,"g":0},{"y":287,"x":293,"g":0},{"y":288,"x":294,"g":0},{"y":289,"x":295,"g":0},{"y":290,"x":296,"g":0},{"y":291,"x":297,"g":0},{"y":292,"x":299,"g":0},{"y":293,"x":300,"g":0},{"y":297,"x":303,"g":0.25},{"y":295,"x":306,"g":0},{"y":298,"x":306,"g":0},{"y":299,"x":306,"g":0},{"y":304,"x":310,"g":0},{"y":344,"x":383,"g":0},{"y":346,"x":383,"g":0},{"y":347,"x":383,"g":0},{"y":359,"x":365,"g":0},{"y":360,"x":366,"g":0},{"y":361,"x":367,"g":0},{"y":362,"x":368,"g":0},{"y":363,"x":369,"g":0},{"y":364,"x":370,"g":0},{"y":365,"x":371,"g":0},{"y":366,"x":372,"g":0},{"y":367,"x":373,"g":0},{"y":368,"x":375,"g":0},{"y":369,"x":375,"g":0},{"y":370,"x":376,"g":0},{"y":371,"x":377,"g":0},{"y":381,"x":387,"g":0},{"y":383,"x":389,"g":0},{"y":383,"x":397,"g":0},{"y":383,"x":400,"g":0},{"y":384,"x":399,"g":0},{"y":386,"x":392,"g":0},{"y":387,"x":393,"g":0},{"y":388,"x":394,"g":0},{"y":389,"x":396,"g":0},{"y":391,"x":398,"g":0},{"y":390,"x":424,"g":0},{"y":395,"x":401,"g":0},{"y":396,"x":402,"g":0},{"y":397,"x":403,"g":0},{"y":398,"x":404,"g":0},{"y":399,"x":405,"g":0},{"y":400,"x":406,"g":0},{"y":401,"x":407,"g":0},{"y":402,"x":408,"g":0},{"y":403,"x":409,"g":0},{"y":404,"x":411,"g":0},{"y":405,"x":412,"g":0},{"y":406,"x":412,"g":0},{"y":407,"x":413,"g":0},{"y":408,"x":414,"g":0},{"y":409,"x":415,"g":0},{"y":410,"x":416,"g":0},{"y":411,"x":417,"g":0},{"y":412,"x":418,"g":0},{"y":413,"x":419,"g":0},{"y":414,"x":420,"g":0},{"y":415,"x":421,"g":0},{"y":416,"x":423,"g":0},{"y":417,"x":424,"g":0},{"y":418,"x":425,"g":0},{"y":419,"x":426,"g":0},{"y":420,"x":427,"g":0},{"y":421,"x":428,"g":0},{"y":422,"x":429,"g":0},{"y":423,"x":431,"g":0},{"y":425,"x":432,"g":0},{"y":425,"x":433,"g":0},{"y":426,"x":434,"g":0},{"y":428,"x":435,"g":0},{"y":429,"x":436,"g":0},{"y":430,"x":437,"g":0},{"y":431,"x":438,"g":0},{"y":433,"x":440,"g":0},{"y":434,"x":441,"g":0},{"y":435,"x":442,"g":0},{"y":436,"x":443,"g":0},{"y":437,"x":444,"g":0},{"y":438,"x":445,"g":0},{"y":440,"x":446,"g":0},{"y":397,"x":416,"g":0},{"y":400,"x":416,"g":0},{"y":401,"x":413,"g":0},{"y":404,"x":416,"g":0},{"y":407,"x":415,"g":0},{"y":411,"x":416,"g":0},{"y":416,"x":438,"g":0},{"y":419,"x":437,"g":0},{"y":417,"x":436,"g":0},{"y":424,"x":436,"g":0},{"y":425,"x":434,"g":0},{"y":422,"x":431,"g":0}
]}}
